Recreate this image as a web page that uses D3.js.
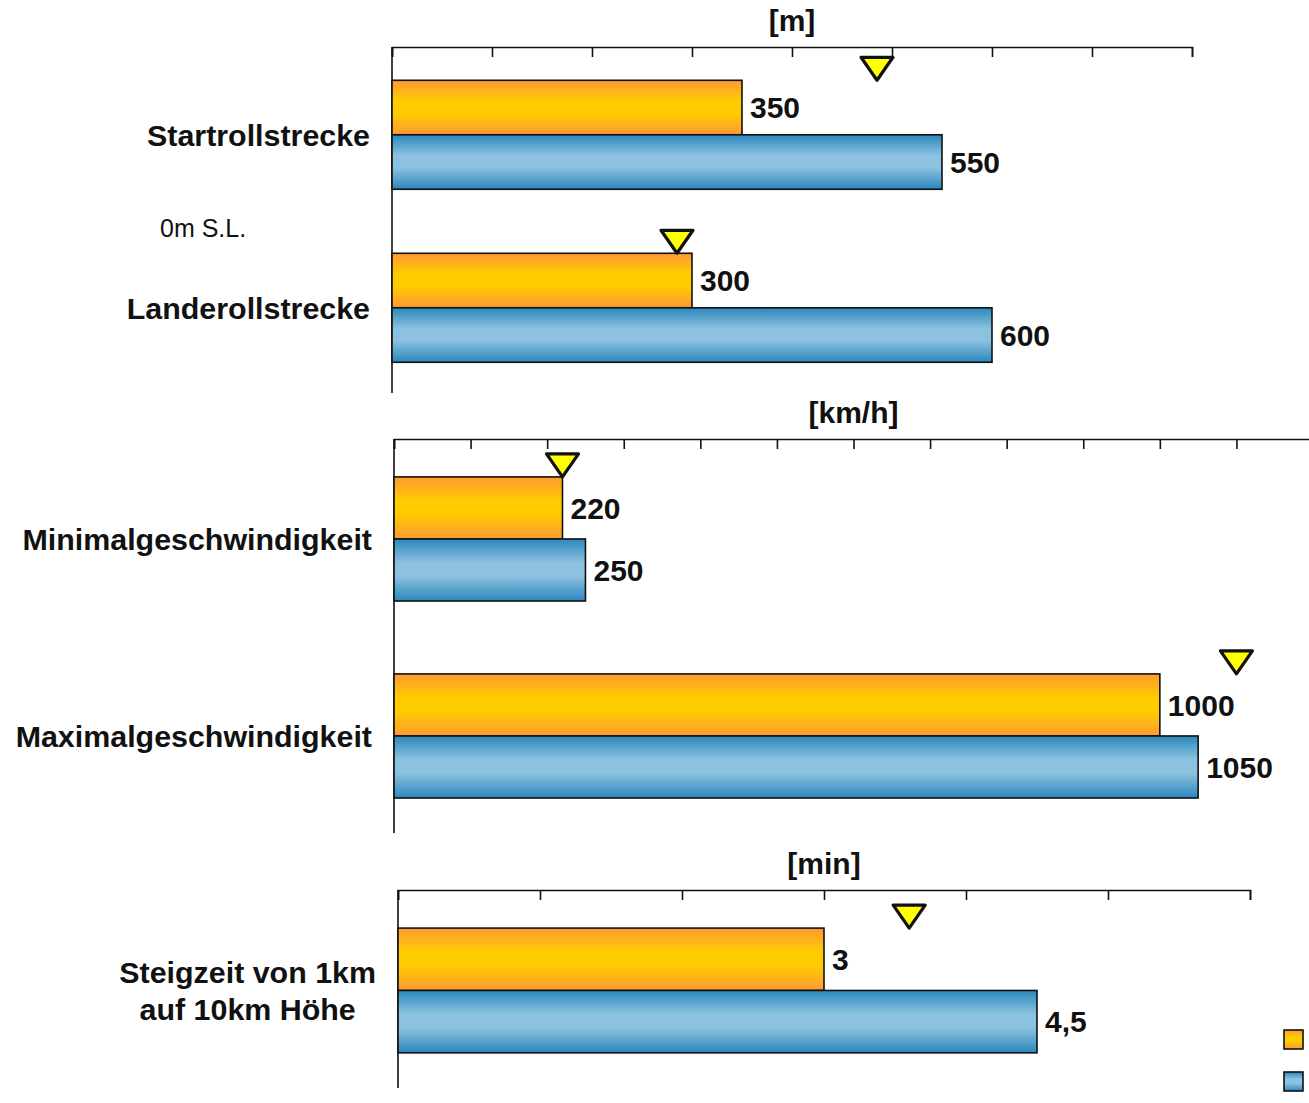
<!DOCTYPE html>
<html>
<head>
<meta charset="utf-8">
<script src="https://cdn.jsdelivr.net/npm/d3@7"></script>
<style>
  html, body { margin: 0; padding: 0; background: #fff; }
  svg { display: block; font-family: "Liberation Sans", Arial, sans-serif; }
</style>
</head>
<body>
<script>
// ---- Data ----------------------------------------------------------------
// Runway distances [m]
const distanceCategories = [["Startrollstrecke"], ["Landerollstrecke"]];
const distanceOrange = [350, 300];
const distanceBlue = [550, 600];
const distanceMarker = [485, 285];
const distanceTicks = [0, 100, 200, 300, 400, 500, 600, 700, 800];

// Speeds [km/h]
const speedCategories = [["Minimalgeschwindigkeit"], ["Maximalgeschwindigkeit"]];
const speedOrange = [220, 1000];
const speedBlue = [250, 1050];
const speedMarker = [220, 1100];
const speedTicks = [0, 100, 200, 300, 400, 500, 600, 700, 800, 900, 1000, 1100, 1200];

// Climb time [min]
const climbCategories = [["Steigzeit von 1km", "auf 10km Höhe"]];
const climbOrange = [3];
const climbBlue = [4.5];
const climbMarker = [3.6];
const climbTicks = [0, 1, 2, 3, 4, 5, 6];

const unitTitles = ["[m]", "[km/h]", "[min]"];
const seaLevelNote = "0m S.L.";

// ---- Layout --------------------------------------------------------------
const W = 1309, H = 1103;
const panels = [
  { title: unitTitles[0], cats: distanceCategories, orange: distanceOrange, blue: distanceBlue,
    marker: distanceMarker, ticks: distanceTicks, xr: [392, 1192], yr: [47, 393] },
  { title: unitTitles[1], cats: speedCategories, orange: speedOrange, blue: speedBlue,
    marker: speedMarker, ticks: speedTicks, xr: [394, 1313], yr: [439, 833] },
  { title: unitTitles[2], cats: climbCategories, orange: climbOrange, blue: climbBlue,
    marker: climbMarker, ticks: climbTicks, xr: [398, 1250], yr: [890, 1088] }
];

const de = d3.formatLocale({ decimal: ",", thousands: ".", grouping: [3], currency: ["", " €"] });
const fmt = de.format("~g");

const svg = d3.select("body").append("svg").attr("width", W).attr("height", H);

// Bar gradients
const defs = svg.append("defs");
function gradient(id, edge, mid) {
  const g = defs.append("linearGradient").attr("id", id)
    .attr("x1", 0).attr("y1", 0).attr("x2", 0).attr("y2", 1);
  [[0, edge], [0.38, mid], [0.6, mid], [1, edge]].forEach(([o, c]) =>
    g.append("stop").attr("offset", o).attr("stop-color", c));
}
gradient("gOrange", "#ff9933", "#ffcc00");
gradient("gBlue", "#2a87bd", "#8cc2df");
const fills = { orange: "url(#gOrange)", blue: "url(#gBlue)" };

panels.forEach(p => {
  const g = svg.append("g");
  const x = d3.scaleLinear().domain([p.ticks[0], p.ticks[p.ticks.length - 1]]).range(p.xr);
  const y = d3.scaleBand().domain(d3.range(p.cats.length)).range(p.yr)
    .paddingInner(0.37).paddingOuter(0.185).align(0.52);
  const sub = d3.scaleBand().domain(["orange", "blue"]).range([0, y.bandwidth()]);

  const rows = p.cats.map((c, i) => ({ i, lines: c, orange: p.orange[i], blue: p.blue[i], marker: p.marker[i] }));

  // top axis, ticks pointing down
  const ax = g.append("g").attr("transform", `translate(0,${p.yr[0]})`)
    .call(d3.axisTop(x).tickValues(p.ticks).tickSize(-10).tickFormat(""));
  ax.selectAll("path, line").attr("stroke", "#111").attr("stroke-width", 1.6);

  // left axis line
  g.append("line").attr("x1", x(0)).attr("x2", x(0))
    .attr("y1", p.yr[0]).attr("y2", p.yr[1])
    .attr("stroke", "#111").attr("stroke-width", 1.6);

  // unit title centred over the axis
  g.append("text").attr("x", (p.xr[0] + p.xr[1]) / 2).attr("y", p.yr[0] - 16)
    .attr("text-anchor", "middle").attr("font-weight", "bold").attr("font-size", 30)
    .attr("fill", "#111").text(p.title);

  // bars
  ["orange", "blue"].forEach(s => {
    g.selectAll(`rect.${s}`).data(rows).join("rect").attr("class", s)
      .attr("x", x(0))
      .attr("y", d => y(d.i) + sub(s))
      .attr("width", d => x(d[s]) - x(0))
      .attr("height", sub.bandwidth())
      .attr("fill", fills[s])
      .attr("stroke", "#111").attr("stroke-width", 1.6);

    g.selectAll(`text.v${s}`).data(rows).join("text").attr("class", `v${s}`)
      .attr("x", d => x(d[s]) + 8)
      .attr("y", d => y(d.i) + sub(s) + sub.bandwidth() / 2)
      .attr("dy", "0.36em")
      .attr("font-weight", "bold").attr("font-size", 30).attr("fill", "#111")
      .text(d => fmt(d[s]));
  });

  // target markers: downward triangles resting on the orange bar
  g.selectAll("path.marker").data(rows).join("path").attr("class", "marker")
    .attr("d", d => {
      const cx = x(d.marker), tip = y(d.i) + sub("orange");
      return `M${cx - 16},${tip - 23}L${cx + 16},${tip - 23}L${cx},${tip}Z`;
    })
    .attr("fill", "#ffff00").attr("stroke", "#111").attr("stroke-width", 3.2)
    .attr("stroke-linejoin", "round");

  // category labels (multi-line labels centred within their block)
  const rightEdge = p.xr[0] - 22;
  rows.forEach(d => {
    const cy = y(d.i) + y.bandwidth() / 2;
    const t = g.append("text").attr("font-weight", "bold").attr("font-size", 30.4).attr("fill", "#111");
    const lh = 37;
    d.lines.forEach((ln, k) => {
      t.append("tspan").attr("y", cy + (k - (d.lines.length - 1) / 2) * lh).attr("dy", "0.36em").text(ln);
    });
    if (d.lines.length === 1) {
      t.attr("text-anchor", "end").selectAll("tspan").attr("x", rightEdge);
    } else {
      const maxW = d3.max(t.selectAll("tspan").nodes(), n => n.getComputedTextLength());
      t.attr("text-anchor", "middle").selectAll("tspan").attr("x", rightEdge - maxW / 2);
    }
  });
});

// sea level note between the runway categories
svg.append("text").attr("x", 160).attr("y", 237).attr("font-size", 25).attr("fill", "#111")
  .text(seaLevelNote);

// legend swatches
["orange", "blue"].forEach((s, k) => {
  svg.append("rect").attr("x", 1284).attr("y", 1030 + k * 42).attr("width", 19).attr("height", 19)
    .attr("fill", fills[s]).attr("stroke", "#111").attr("stroke-width", 1.6);
});
</script>
</body>
</html>
